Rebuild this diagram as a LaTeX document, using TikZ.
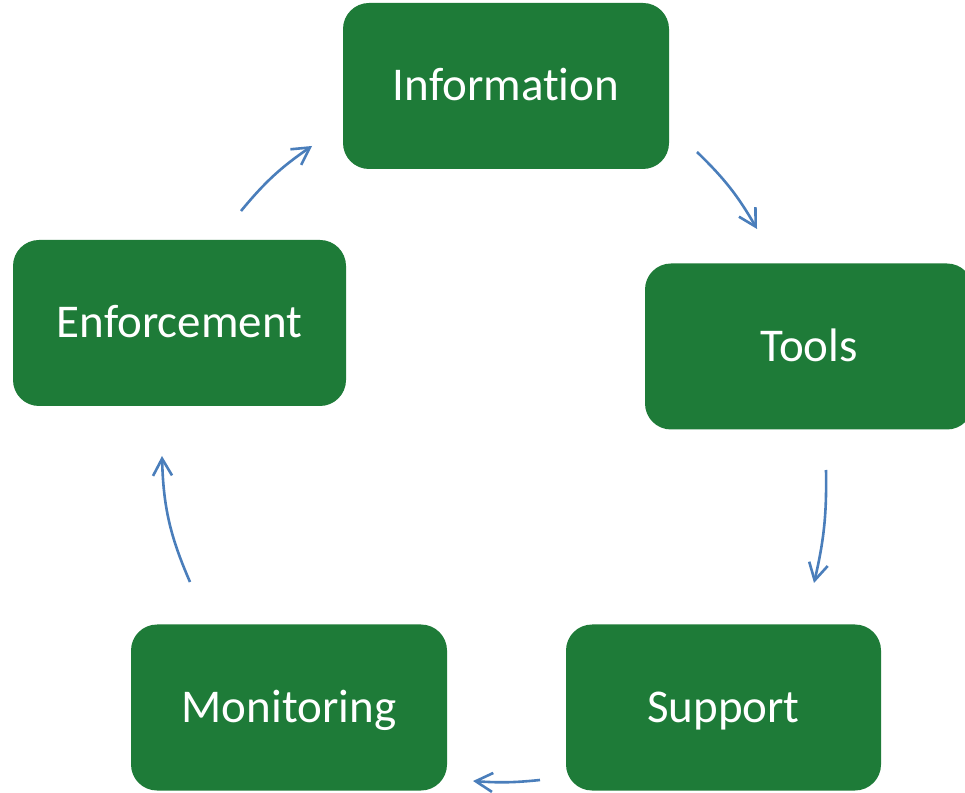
\documentclass[tikz,border=0pt]{standalone}
\usepackage{fontspec}
\setmainfont{Carlito}[RawFeature={-liga;-clig;-dlig}]
\usepackage{xcolor}
\usepackage{tikz}
\usetikzlibrary{arrows.meta}
\definecolor{boxgreen}{HTML}{1E7B38}
\definecolor{arrowblue}{HTML}{4A7EBB}
\tikzset{
  stage/.style={fill=boxgreen, rounded corners=26pt, minimum height=166pt,
    inner sep=0pt, text=white, font=\fontsize{47}{56}\selectfont,
    text height=30pt, text depth=0pt},
  cycarrow/.style={draw=arrowblue, line width=2.6pt,
    -{Straight Barb[length=17pt,width=19pt]}}
}
\begin{document}
\begin{tikzpicture}[x=1pt,y=1pt]
	\useasboundingbox (0,0) rectangle (965,792);
	
	\node[stage, minimum width=326pt] (info) at (506,706) {Information};
	\node[stage, minimum width=328pt] (tools) at (809,445.5) {Tools};
	\node[stage, minimum width=315pt] (supp) at (723.5,84.5) {Support};
	\node[stage, minimum width=316pt] (moni) at (289,84.5) {Monitoring};
	\node[stage, minimum width=333pt] (enfo) at (179.5,469) {Enforcement};
	
	\coordinate (info-out) at (697,640);
	\coordinate (tools-in) at (757,563);
	\coordinate (tools-out) at (826,322);
	\coordinate (supp-in) at (814,209);
	\coordinate (supp-out) at (540,12);
	\coordinate (moni-in) at (473,11);
	\coordinate (moni-out) at (190,210);
	\coordinate (enfo-in) at (162,336);
	\coordinate (enfo-out) at (241,581);
	\coordinate (info-in) at (312,646);
	
	\draw[cycarrow] (info-out) to[bend left=8] (tools-in);
	\draw[cycarrow] (tools-out) to[bend left=7] (supp-in);
	\draw[cycarrow] (supp-out) to[bend left=5] (moni-in);
	\draw[cycarrow] (moni-out) to[bend left=11] (enfo-in);
	\draw[cycarrow] (enfo-out) to[bend left=8] (info-in);
\end{tikzpicture}
\end{document}
